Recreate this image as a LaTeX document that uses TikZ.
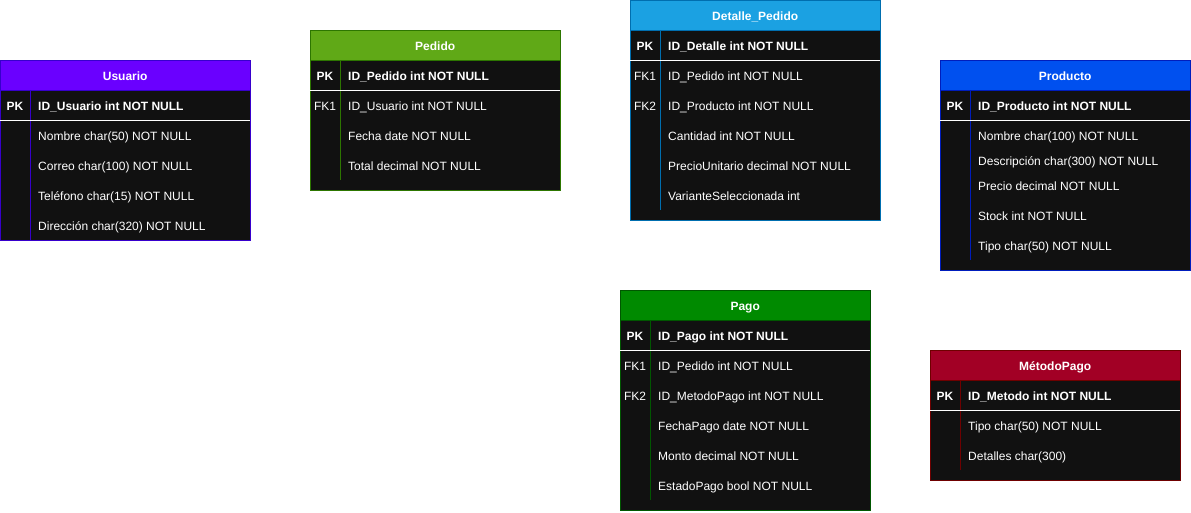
\documentclass[tikz,border=0pt]{standalone}
\usepackage{fontspec}
\setmainfont{Liberation Sans}
\usepackage{xcolor}

\definecolor{bodygray}{HTML}{111111}
\definecolor{usuariofill}{HTML}{6A00FF}
\definecolor{usuarioline}{HTML}{3700CC}
\definecolor{pedidofill}{HTML}{60A917}
\definecolor{pedidoline}{HTML}{2D7600}
\definecolor{detallefill}{HTML}{1BA1E2}
\definecolor{detalleline}{HTML}{006EAF}
\definecolor{productofill}{HTML}{0050EF}
\definecolor{productoline}{HTML}{001DBC}
\definecolor{pagofill}{HTML}{008A00}
\definecolor{pagoline}{HTML}{005700}
\definecolor{metodofill}{HTML}{A20025}
\definecolor{metodoline}{HTML}{6F0000}

\begin{document}
\fontsize{12}{14}\selectfont
\begin{tikzpicture}[x=1pt, y=-1pt,
    title/.style={anchor=north west, minimum width=250pt, minimum height=30pt,
        inner sep=0pt, text=white, font=\bfseries, text height=10.2pt, text depth=0pt},
    body/.style={anchor=north west, minimum width=250pt, fill=bodygray, inner sep=0pt},
    keycol/.style={anchor=center, text=white, inner sep=0pt, text height=10.2pt, text depth=0pt},
    field/.style={anchor=west, text=white, inner sep=0pt, text height=10.2pt, text depth=0pt},
    pk/.style={font=\bfseries},
    sep/.style={draw=white, line width=1pt}]
\useasboundingbox (0,0) rectangle (1191,512);

    % Usuario
    \node[body, draw=usuarioline, minimum height=150pt] (usuario-body) at (0,90) {};
    \node[title, fill=usuariofill, draw=usuarioline] (usuario) at (0,60) {Usuario};
    \draw[usuarioline] (30,90) -- (30,240);
    \draw[sep] (0,120) -- (250,120);
    \node[keycol, pk] (usuario-pk) at (15,105) {PK};
    \node[field, pk] (usuario-id) at (38,105) {ID\_Usuario int NOT NULL};
    \foreach \y/\txt [count=\i] in {135/Nombre char(50) NOT NULL,
        165/Correo char(100) NOT NULL, 195/Teléfono char(15) NOT NULL,
        225/Dirección char(320) NOT NULL}
        \node[field] (usuario-r\i) at (38,\y) {\txt};

    % Pedido
    \node[body, draw=pedidoline, minimum height=130pt] (pedido-body) at (310,60) {};
    \node[title, fill=pedidofill, draw=pedidoline] (pedido) at (310,30) {Pedido};
    \draw[pedidoline] (340,60) -- (340,180);
    \draw[sep] (310,90) -- (560,90);
    \node[keycol, pk] (pedido-pk) at (325,75) {PK};
    \node[field, pk] (pedido-id) at (348,75) {ID\_Pedido int NOT NULL};
    \node[keycol] (pedido-fk1) at (325,105) {FK1};
    \foreach \y/\txt [count=\i] in {105/ID\_Usuario int NOT NULL,
        135/Fecha date NOT NULL, 165/Total decimal NOT NULL}
        \node[field] (pedido-r\i) at (348,\y) {\txt};

    % Detalle_Pedido
    \node[body, draw=detalleline, minimum height=190pt] (detalle-body) at (630,30) {};
    \node[title, fill=detallefill, draw=detalleline] (detalle) at (630,0) {Detalle\_Pedido};
    \draw[detalleline] (660,30) -- (660,210);
    \draw[sep] (630,60) -- (880,60);
    \node[keycol, pk] (detalle-pk) at (645,45) {PK};
    \node[field, pk] (detalle-id) at (668,45) {ID\_Detalle int NOT NULL};
    \node[keycol] (detalle-fk1) at (645,75) {FK1};
    \node[keycol] (detalle-fk2) at (645,105) {FK2};
    \foreach \y/\txt [count=\i] in {75/ID\_Pedido int NOT NULL,
        105/ID\_Producto int NOT NULL, 135/Cantidad int NOT NULL,
        165/PrecioUnitario decimal NOT NULL, 195/VarianteSeleccionada int}
        \node[field] (detalle-r\i) at (668,\y) {\txt};

    % Producto
    \node[body, draw=productoline, minimum height=180pt] (producto-body) at (940,90) {};
    \node[title, fill=productofill, draw=productoline] (producto) at (940,60) {Producto};
    \draw[productoline] (970,90) -- (970,260);
    \draw[sep] (940,120) -- (1190,120);
    \node[keycol, pk] (producto-pk) at (955,105) {PK};
    \node[field, pk] (producto-id) at (978,105) {ID\_Producto int NOT NULL};
    \foreach \y/\txt [count=\i] in {135/Nombre char(100) NOT NULL,
        160/Descripción char(300) NOT NULL, 185/Precio decimal NOT NULL,
        215/Stock int NOT NULL, 245/Tipo char(50) NOT NULL}
        \node[field] (producto-r\i) at (978,\y) {\txt};

    % Pago
    \node[body, draw=pagoline, minimum height=190pt] (pago-body) at (620,320) {};
    \node[title, fill=pagofill, draw=pagoline] (pago) at (620,290) {Pago};
    \draw[pagoline] (650,320) -- (650,500);
    \draw[sep] (620,350) -- (870,350);
    \node[keycol, pk] (pago-pk) at (635,335) {PK};
    \node[field, pk] (pago-id) at (658,335) {ID\_Pago int NOT NULL};
    \node[keycol] (pago-fk1) at (635,365) {FK1};
    \node[keycol] (pago-fk2) at (635,395) {FK2};
    \foreach \y/\txt [count=\i] in {365/ID\_Pedido int NOT NULL,
        395/ID\_MetodoPago int NOT NULL, 425/FechaPago date NOT NULL,
        455/Monto decimal NOT NULL, 485/EstadoPago bool NOT NULL}
        \node[field] (pago-r\i) at (658,\y) {\txt};

    % MetodoPago
    \node[body, draw=metodoline, minimum height=100pt] (metodo-body) at (930,380) {};
    \node[title, fill=metodofill, draw=metodoline] (metodo) at (930,350) {MétodoPago};
    \draw[metodoline] (960,380) -- (960,470);
    \draw[sep] (930,410) -- (1180,410);
    \node[keycol, pk] (metodo-pk) at (945,395) {PK};
    \node[field, pk] (metodo-id) at (968,395) {ID\_Metodo int NOT NULL};
    \foreach \y/\txt [count=\i] in {425/Tipo char(50) NOT NULL,
        455/Detalles char(300)}
        \node[field] (metodo-r\i) at (968,\y) {\txt};

\end{tikzpicture}
\end{document}
